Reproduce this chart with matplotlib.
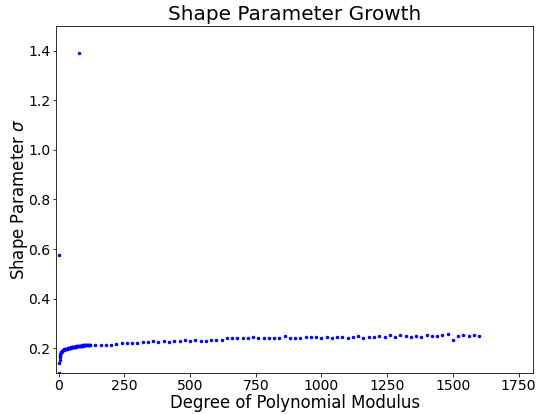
import matplotlib.pyplot as plt

# Degree of polynomial modulus vs. fitted shape parameter sigma
degree_dense = [1, 2, 3, 4, 5, 6, 7, 8, 9, 10, 12, 14, 16, 18, 20, 22, 24, 26, 28, 30,
                32, 34, 36, 38, 40, 42, 44, 46, 48, 50, 52, 54, 56, 58, 60, 62, 64, 66,
                68, 70, 72, 74, 76, 78, 80, 82, 84, 86, 88, 90, 92, 94, 96, 98, 100,
                102, 104, 106, 108, 110, 112, 114, 116, 118, 120]
sigma_dense = [0.575, 0.100, 0.140, 0.152, 0.163, 0.170, 0.176, 0.179, 0.182, 0.185,
               0.187, 0.189, 0.191, 0.192, 0.194, 0.195, 0.195, 0.197, 0.196, 0.198,
               0.198, 0.199, 0.200, 0.199, 0.201, 0.201, 0.202, 0.201, 0.203, 0.203,
               0.204, 0.203, 0.205, 0.204, 0.205, 0.206, 0.206, 0.205, 0.207, 0.207,
               0.208, 0.207, 1.390, 0.208, 0.209, 0.209, 0.208, 0.210, 0.210, 0.211,
               0.210, 0.211, 0.212, 0.211, 0.212, 0.211, 0.212, 0.213, 0.212, 0.213,
               0.213, 0.212, 0.213, 0.214, 0.214]

degree_sparse = [140, 160, 180, 200, 220, 240, 260, 280, 300, 320, 340, 360, 380, 400,
                 420, 440, 460, 480, 500, 520, 540, 560, 580, 600, 620, 640, 660, 680,
                 700, 720, 740, 760, 780, 800, 820, 840, 860, 880, 900, 920, 940, 960,
                 980, 1000, 1020, 1040, 1060, 1080, 1100, 1120, 1140, 1160, 1180, 1200,
                 1220, 1240, 1260, 1280, 1300, 1320, 1340, 1360, 1380, 1400, 1420, 1440,
                 1460, 1480, 1500, 1520, 1540, 1560, 1580, 1600]
sigma_sparse = [0.211, 0.213, 0.214, 0.214, 0.216, 0.221, 0.222, 0.223, 0.223, 0.224,
                0.227, 0.228, 0.226, 0.228, 0.227, 0.229, 0.230, 0.234, 0.231, 0.232,
                0.231, 0.228, 0.235, 0.234, 0.232, 0.240, 0.241, 0.241, 0.241, 0.242,
                0.246, 0.240, 0.242, 0.241, 0.240, 0.240, 0.249, 0.241, 0.241, 0.241,
                0.246, 0.244, 0.244, 0.240, 0.245, 0.240, 0.244, 0.245, 0.242, 0.244,
                0.248, 0.241, 0.245, 0.244, 0.249, 0.244, 0.252, 0.246, 0.252, 0.250,
                0.244, 0.249, 0.244, 0.252, 0.249, 0.248, 0.252, 0.256, 0.235, 0.250,
                0.253, 0.250, 0.252, 0.250]

fig = plt.figure(figsize=(537 / 72, 414 / 72), dpi=72)
ax = fig.add_axes([56 / 537, 1 - 373 / 414, (533 - 56) / 537, (373 - 26) / 414])

ax.plot(degree_dense + degree_sparse, sigma_dense + sigma_sparse, 'b.', markersize=5)

ax.set_xlim(-10, 1805)
ax.set_ylim(0.1, 1.5)
ax.set_xticks([0, 250, 500, 750, 1000, 1250, 1500, 1750])
ax.set_yticks([0.2, 0.4, 0.6, 0.8, 1.0, 1.2, 1.4])
ax.tick_params(labelsize=14, length=3.5, pad=2)

ax.set_title('Shape Parameter Growth', fontsize=20)
ax.set_xlabel('Degree of Polynomial Modulus', fontsize=16.5, labelpad=1)
ax.set_ylabel(r'Shape Parameter $\sigma$', fontsize=16.5, labelpad=-2)

fig.savefig('out.png', dpi=72)
